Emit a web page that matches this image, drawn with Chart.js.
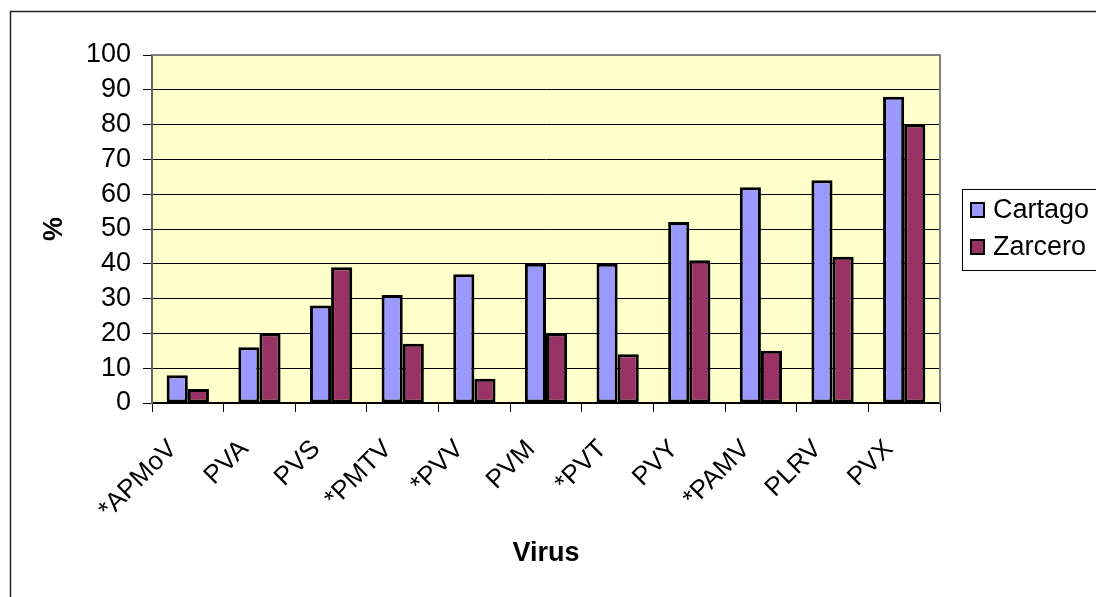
<!DOCTYPE html>
<html>
<head>
<meta charset="utf-8">
<script src="https://cdn.jsdelivr.net/npm/chart.js@4/dist/chart.umd.min.js"></script>
<style>
html,body{margin:0;padding:0;background:#fff;}
canvas{display:block;}
</style>
</head>
<body>
<canvas id="c" width="1096" height="597"></canvas>
<script>
const categories = ["*APMoV","PVA","PVS","*PMTV","*PVV","PVM","*PVT","PVY","*PAMV","PLRV","PVX"];
const cartago = [8,16,28,31,37,40,40,52,62,64,88];
const zarcero = [4,20,39,17,7,20,14,41,15,42,80];
const yTicks = [0,10,20,30,40,50,60,70,80,90,100];
const seriesNames = ["Cartago","Zarcero"];

const FONT = "'Liberation Sans', Arial, sans-serif";
const FS = 27;
const FSX = 26;

const bgPlugin = {
  id: 'bg',
  beforeDraw(chart) {
    const {ctx, chartArea: a} = chart;
    ctx.save();
    ctx.fillStyle = '#fff';
    ctx.fillRect(0,0,chart.width,chart.height);
    ctx.strokeStyle = '#222';
    ctx.lineWidth = 1.5;
    ctx.strokeRect(10.5, 11.5, chart.width + 20, chart.height + 20);
    ctx.fillStyle = '#FFFFCC';
    ctx.fillRect(a.left, a.top, a.right - a.left, a.bottom - a.top);
    ctx.restore();
  },
  afterDraw(chart) {
    const {ctx, chartArea: a} = chart;
    ctx.save();
    ctx.strokeStyle = '#808080';
    ctx.lineWidth = 2;
    ctx.beginPath();
    ctx.moveTo(a.left, a.top);
    ctx.lineTo(a.right, a.top);
    ctx.lineTo(a.right, a.bottom);
    ctx.stroke();
    // legend
    const lx = 962, ly = 189, lw = 140, lh = 81;
    ctx.fillStyle = '#fff';
    ctx.fillRect(lx, ly, lw, lh);
    ctx.strokeStyle = '#000';
    ctx.lineWidth = 1;
    ctx.strokeRect(lx + 0.5, ly + 0.5, lw, lh);
    ctx.font = FS + 'px ' + FONT;
    ctx.textBaseline = 'middle';
    ctx.textAlign = 'left';
    chart.data.datasets.forEach((ds, i) => {
      const cy = 210 + i * 37;
      ctx.fillStyle = ds.backgroundColor;
      ctx.fillRect(971, cy - 7, 13, 14);
      ctx.strokeStyle = '#000';
      ctx.lineWidth = 2;
      ctx.strokeRect(971, cy - 7, 13, 14);
      ctx.fillStyle = '#000';
      ctx.fillText(ds.label, 993, cy + 1);
    });
    ctx.restore();
  }
};

new Chart(document.getElementById('c'), {
  type: 'bar',
  data: {
    labels: categories,
    datasets: [
      {label: seriesNames[0], data: cartago, backgroundColor: '#9999FF', borderColor: '#000', borderWidth: 3,
       borderSkipped: false, categoryPercentage: 0.59, barPercentage: 1.0},
      {label: seriesNames[1], data: zarcero, backgroundColor: '#993366', borderColor: '#000', borderWidth: 3,
       borderSkipped: false, categoryPercentage: 0.59, barPercentage: 1.0}
    ]
  },
  options: {
    responsive: false,
    animation: false,
    layout: {padding: {left: 10, top: 55, right: 156, bottom: 0}},
    plugins: {legend: {display: false}, tooltip: {enabled: false}},
    scales: {
      x: {
        offset: true,
        grid: {display: true, drawOnChartArea: false, drawTicks: true, tickLength: 9, color: '#000', offset: true},
        border: {display: true, color: '#000', width: 1.5},
        ticks: {color: '#000', font: {family: FONT, size: FSX}, minRotation: 45, maxRotation: 45, padding: 22, labelOffset: -15, autoSkip: false},
        title: {display: true, text: 'Virus', color: '#000', font: {family: FONT, size: FS, weight: 'bold'}, padding: {top: 0, bottom: 27}},
        afterFit(s) { s.height = 194; }
      },
      y: {
        min: 0, max: 100,
        afterBuildTicks(s) { s.ticks = yTicks.map(v => ({value: v})); },
        grid: {color: '#000', lineWidth: 1, tickLength: 9, drawTicks: true},
        border: {display: true, color: '#666', width: 2},
        ticks: {color: '#000', font: {family: FONT, size: FS}, padding: 12, autoSkip: false},
        title: {display: true, text: '%', color: '#000', font: {family: FONT, size: FS, weight: 'bold'}, padding: {top: 28, bottom: 0}},
        afterFit(s) { s.width = 142; }
      }
    }
  },
  plugins: [bgPlugin]
});
</script>
</body>
</html>
